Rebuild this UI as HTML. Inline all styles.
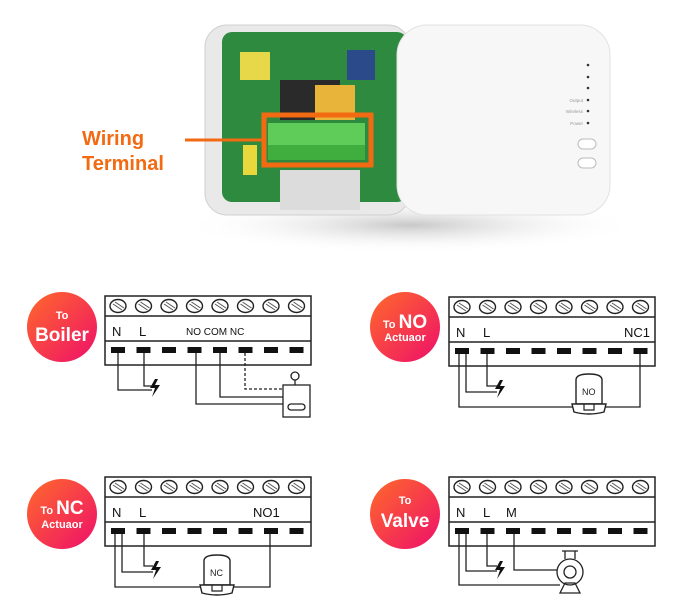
<!DOCTYPE html>
<html><head><meta charset="utf-8"><style>
html,body{margin:0;padding:0;background:#fff;}
svg{display:block;font-family:"Liberation Sans",sans-serif;}
</style></head><body>
<svg width="685" height="616" viewBox="0 0 685 616" xmlns="http://www.w3.org/2000/svg">
<defs>
<linearGradient id="g" x1="0" y1="0" x2="1" y2="1">
<stop offset="0" stop-color="#ff6a2a"/><stop offset="1" stop-color="#ee0f6a"/></linearGradient>
<radialGradient id="sh" cx="0.5" cy="0.5" r="0.5"><stop offset="0" stop-color="#c8c8c8"/><stop offset="1" stop-color="#fff" stop-opacity="0"/></radialGradient>
<g id="scr"><ellipse cx="0" cy="0" rx="8" ry="6.5" fill="#fff" stroke="#222" stroke-width="1.4"/><line x1="-5" y1="-2" x2="4" y2="4" stroke="#555" stroke-width="1"/><line x1="-3" y1="-4" x2="6" y2="2" stroke="#555" stroke-width="1"/></g>
<g id="bolt"><path d="M5 0 L0 9 L5 9 L2 18 L10 6 L5 6 L8 0Z" fill="#111"/></g>
<g id="act"><path d="M4 30 L4 6 Q4 0 17 0 Q30 0 30 6 L30 30Z" fill="#fff" stroke="#222" stroke-width="1.4"/><path d="M0 30 L34 30 L32 38 Q17 42 2 38Z" fill="#fff" stroke="#222" stroke-width="1.4"/><path d="M12 30 L12 36 L22 36 L22 30" fill="none" stroke="#222" stroke-width="1.2"/></g>
</defs>

<!-- photo -->
<ellipse cx="410" cy="225" rx="230" ry="28" fill="url(#sh)"/>
<rect x="205" y="25" width="205" height="190" rx="22" fill="#e9e9e9" stroke="#d0d0d0"/>
<rect x="222" y="32" width="185" height="170" rx="10" fill="#2e8a3e"/>
<rect x="240" y="52" width="30" height="28" fill="#e7d84a"/>
<rect x="243" y="145" width="14" height="30" fill="#e8d83c"/>
<rect x="280" y="80" width="60" height="40" fill="#2a2a2a"/>
<rect x="315" y="85" width="40" height="35" fill="#e8b43a"/>
<rect x="347" y="50" width="28" height="30" fill="#2a4a8a"/>
<rect x="280" y="170" width="80" height="40" fill="#dcdcdc"/>
<rect x="268" y="123" width="97" height="37" fill="#5fcc5a"/>
<rect x="268" y="145" width="97" height="15" fill="#3fae3e"/>
<rect x="264" y="115" width="107" height="50" fill="none" stroke="#f26a12" stroke-width="5"/>
<line x1="185" y1="140" x2="264" y2="140" stroke="#f26a12" stroke-width="3"/>
<text x="82" y="145" font-size="20" font-weight="bold" fill="#f26a12">Wiring</text>
<text x="82" y="170" font-size="20" font-weight="bold" fill="#f26a12">Terminal</text>
<rect x="397" y="25" width="213" height="190" rx="30" fill="#f7f7f7" stroke="#e2e2e2"/>
<g fill="#333"><circle cx="588" cy="65" r="1.3"/><circle cx="588" cy="77" r="1.3"/><circle cx="588" cy="88" r="1.3"/><circle cx="588" cy="100" r="1.3"/><circle cx="588" cy="111" r="1.3"/><circle cx="588" cy="123" r="1.3"/></g>
<g font-size="4.5" fill="#999" text-anchor="end"><text x="583" y="102">Output</text><text x="583" y="113">Wireless</text><text x="583" y="125">Power</text></g>
<rect x="578" y="139" width="18" height="10" rx="5" fill="#fff" stroke="#bbb"/>
<rect x="578" y="158" width="18" height="10" rx="5" fill="#fff" stroke="#bbb"/>

<!-- circles -->
<g font-weight="bold" fill="#fff" text-anchor="middle">
<circle cx="62" cy="327" r="35" fill="url(#g)"/>
<text x="62" y="319" font-size="11">To</text><text x="62" y="341" font-size="19">Boiler</text>
<circle cx="405" cy="327" r="35" fill="url(#g)"/>
<text x="405" y="328" font-size="19"><tspan font-size="11">To </tspan>NO</text><text x="405" y="341" font-size="11">Actuaor</text>
<circle cx="62" cy="514" r="35" fill="url(#g)"/>
<text x="62" y="514" font-size="19"><tspan font-size="11">To </tspan>NC</text><text x="62" y="528" font-size="11">Actuaor</text>
<circle cx="405" cy="514" r="35" fill="url(#g)"/>
<text x="405" y="504" font-size="11">To</text><text x="405" y="527" font-size="19">Valve</text>
</g>

<!-- terminal blocks -->
<g id="tb1">
<rect x="105" y="296" width="206" height="69" fill="#fff" stroke="#222" stroke-width="1.5"/>
<line x1="105" y1="316" x2="311" y2="316" stroke="#222" stroke-width="1.5"/>
<line x1="105" y1="341" x2="311" y2="341" stroke="#222" stroke-width="1.5"/>
<use href="#scr" x="118" y="306"/><use href="#scr" x="143.5" y="306"/><use href="#scr" x="169" y="306"/><use href="#scr" x="194.5" y="306"/><use href="#scr" x="220" y="306"/><use href="#scr" x="245.5" y="306"/><use href="#scr" x="271" y="306"/><use href="#scr" x="296.5" y="306"/>
<g fill="#111"><rect x="111" y="347" width="14" height="6"/><rect x="136.5" y="347" width="14" height="6"/><rect x="162" y="347" width="14" height="6"/><rect x="187.5" y="347" width="14" height="6"/><rect x="213" y="347" width="14" height="6"/><rect x="238.5" y="347" width="14" height="6"/><rect x="264" y="347" width="14" height="6"/><rect x="289.5" y="347" width="14" height="6"/></g>
</g>
<use href="#tb1" x="344" y="1"/>
<use href="#tb1" x="0" y="181"/>
<use href="#tb1" x="344" y="181"/>

<g font-size="13" fill="#111">
<text x="112" y="336">N</text><text x="139" y="336">L</text>
<text x="186" y="335" font-size="10">NO COM NC</text>
<text x="456" y="337">N</text><text x="483" y="337">L</text><text x="624" y="337">NC1</text>
<text x="112" y="517">N</text><text x="139" y="517">L</text><text x="253" y="517">NO1</text>
<text x="456" y="517">N</text><text x="483" y="517">L</text><text x="506" y="517">M</text>
</g>

<g fill="none" stroke="#222" stroke-width="1.3">
<!-- boiler -->
<polyline points="118,353 118,390 152,390"/><polyline points="144,353 144,386 152,386"/>
<polyline points="196,353 196,404 283,404"/><polyline points="220,353 220,397 283,397"/>
<polyline points="245,353 245,389 283,389" stroke-dasharray="3,2"/>
<rect x="283" y="385" width="27" height="32" fill="#fff"/><rect x="288" y="404" width="17" height="6" rx="3"/>
<circle cx="295" cy="376" r="4"/><line x1="295" y1="380" x2="295" y2="385"/>
<!-- NO -->
<polyline points="459,354 459,407 640,407 640,354"/><polyline points="466,354 466,392 497,392"/><polyline points="487,354 487,386 497,386"/>
<!-- NC -->
<polyline points="115,534 115,587 270,587 270,534"/><polyline points="122,534 122,572 153,572"/><polyline points="144,534 144,566 153,566"/>
<!-- valve -->
<polyline points="459,534 459,585 560,585"/><polyline points="466,534 466,571 497,571"/><polyline points="487,534 487,566 497,566"/><polyline points="514,534 514,570 558,570"/>
<circle cx="570" cy="572" r="13" fill="#fff"/><circle cx="570" cy="572" r="6"/>
<path d="M560 593 L580 593 L575 583 L565 583Z"/><path d="M565 559 L565 551 M575 559 L575 551 M562 551 L578 551"/>
</g>
<use href="#bolt" x="150" y="379"/><use href="#bolt" x="495" y="380"/><use href="#bolt" x="151" y="561"/><use href="#bolt" x="495" y="561"/>
<use href="#act" x="572" y="374"/><use href="#act" x="200" y="555"/>
<text x="582" y="395" font-size="9" fill="#222">NO</text>
<text x="210" y="576" font-size="9" fill="#222">NC</text>
</svg>
</body></html>
